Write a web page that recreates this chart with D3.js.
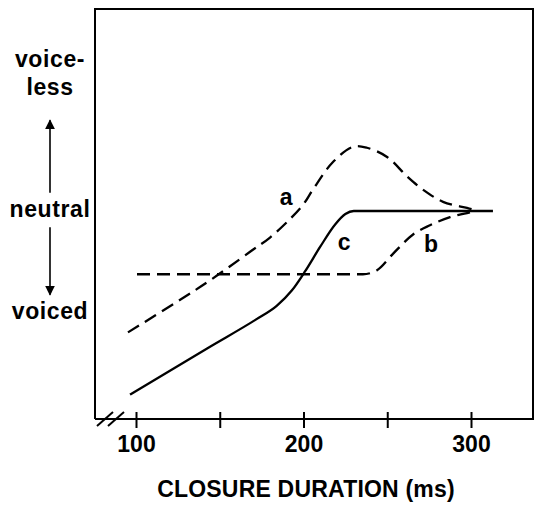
<!DOCTYPE html>
<html>
<head>
<meta charset="utf-8">
<script src="https://cdn.jsdelivr.net/npm/d3@7"></script>
<style>
  body { margin: 0; background: #fff; }
  text { font-family: "Liberation Sans", Arial, sans-serif; font-weight: bold; fill: #000; }
</style>
</head>
<body>
<svg id="chart"></svg>
<script>
// x: closure duration (ms); y: percept, 0 = neutral, -1 = voiced, + = voiceless
const xTicks = [100, 150, 200, 250, 300];
const xTickLabels = [100, 200, 300];

const curveA = [[95.2, -1.19], [124.5, -0.89], [144.2, -0.68], [168.1, -0.40], [180.0, -0.26],
  [191.9, -0.08], [199.7, 0.06], [206.0, 0.22], [217.6, 0.48], [229.6, 0.63], [237.9, 0.62],
  [249.9, 0.53], [261.8, 0.34], [271.3, 0.21], [283.3, 0.09], [297.6, 0.03], [302.4, 0.01]];

const curveB = [[100.6, -0.62], [235.5, -0.62], [243.9, -0.58], [253.4, -0.42], [265.4, -0.23],
  [275.5, -0.14], [287.5, -0.06], [297.6, -0.02], [302.4, 0]];

const curveC = [[96.4, -1.80], [144.2, -1.33], [172, -1.06], [184, -0.93], [193, -0.78],
  [201, -0.59], [210, -0.35], [219, -0.13], [225, -0.03], [230, 0], [313.1, 0]];

const curveLabels = [
  {text: 'a', x: 189.6, y: 0.06},
  {text: 'c', x: 224.2, y: -0.38},
  {text: 'b', x: 276.1, y: -0.40}
];

const yLabels = [
  {lines: ['voice-', 'less'], v: 1.33},
  {lines: ['neutral'], v: 0},
  {lines: ['voiced'], v: -1}
];

const arrows = [[0.18, 0.89], [-0.16, -0.82]];

const width = 535, height = 505;
const frame = {left: 95, top: 9, right: 533, bottom: 419};

const svg = d3.select('#chart').attr('width', width).attr('height', height);

const xScale = d3.scaleLinear().domain([100, 300]).range([136, 471]);
const yScale = d3.scaleLinear().domain([-1, 0]).range([313, 211]);

// frame
svg.append('path')
  .attr('d', `M${frame.left},${frame.bottom}V${frame.top}H${frame.right}V${frame.bottom}H${frame.left}`)
  .attr('fill', 'none')
  .attr('stroke', '#000')
  .attr('stroke-width', 2);

// x axis
const xAxis = d3.axisBottom(xScale)
  .tickValues(xTicks)
  .tickFormat(d => xTickLabels.includes(d) ? d : '');

const xAxisG = svg.append('g')
  .attr('transform', `translate(0,${frame.bottom})`)
  .call(xAxis);
xAxisG.select('.domain').remove();
xAxisG.selectAll('.tick line')
  .attr('y1', -7).attr('y2', 9)
  .attr('stroke', '#000').attr('stroke-width', 2);
xAxisG.selectAll('.tick text')
  .attr('y', 33).attr('dy', 0)
  .attr('font-size', 23)
  .attr('font-family', '"Liberation Sans", Arial, sans-serif')
  .attr('font-weight', 'bold')
  .attr('fill', '#000');

// axis break
svg.append('g').selectAll('line')
  .data([0, 11])
  .join('line')
    .attr('x1', d => 97 + d).attr('y1', frame.bottom + 7)
    .attr('x2', d => 113 + d).attr('y2', frame.bottom - 7)
    .attr('stroke', '#000').attr('stroke-width', 2);

svg.append('text')
  .attr('x', 306)
  .attr('y', 497)
  .attr('text-anchor', 'middle')
  .attr('font-size', 23)
  .attr('letter-spacing', 0.2)
  .text('CLOSURE DURATION (ms)');

// y labels
const yl = svg.append('g').selectAll('text')
  .data(yLabels)
  .join('text')
    .attr('text-anchor', 'middle')
    .attr('font-size', 23)
    .attr('letter-spacing', 0.6)
    .attr('y', d => yScale(d.v) + 6 - (d.lines.length - 1) * 14);
yl.selectAll('tspan')
  .data(d => d.lines)
  .join('tspan')
    .attr('x', 50)
    .attr('dy', (d, i) => i ? 28 : 0)
    .text(d => d);

// arrows
svg.append('defs').append('marker')
  .attr('id', 'head')
  .attr('viewBox', '0 0 10 10')
  .attr('refX', 9).attr('refY', 5)
  .attr('markerWidth', 10).attr('markerHeight', 12)
  .attr('markerUnits', 'userSpaceOnUse')
  .attr('orient', 'auto')
  .append('path')
    .attr('d', 'M0,0L10,5L0,10Z')
    .attr('fill', '#000');

svg.append('g').selectAll('line')
  .data(arrows)
  .join('line')
    .attr('x1', 50).attr('x2', 50)
    .attr('y1', d => yScale(d[0]))
    .attr('y2', d => yScale(d[1]))
    .attr('stroke', '#000')
    .attr('stroke-width', 1.6)
    .attr('marker-end', 'url(#head)');

// curves: a has a hump so catmull-rom, b and c are monotone
const smoothLine = d3.line()
  .x(d => xScale(d[0]))
  .y(d => yScale(d[1]))
  .curve(d3.curveCatmullRom.alpha(0.5));
const monoLine = d3.line()
  .x(d => xScale(d[0]))
  .y(d => yScale(d[1]))
  .curve(d3.curveMonotoneX);

svg.append('g').selectAll('path')
  .data([
    {d: smoothLine(curveA), dash: '13,7'},
    {d: monoLine(curveB), dash: '13,7'},
    {d: monoLine(curveC), dash: null}
  ])
  .join('path')
    .attr('d', d => d.d)
    .attr('fill', 'none')
    .attr('stroke', '#000')
    .attr('stroke-width', 2.3)
    .attr('stroke-dasharray', d => d.dash);

svg.append('g').selectAll('text')
  .data(curveLabels)
  .join('text')
    .attr('x', d => xScale(d.x))
    .attr('y', d => yScale(d.y))
    .attr('text-anchor', 'middle')
    .attr('font-size', 23)
    .text(d => d.text);
</script>
</body>
</html>
